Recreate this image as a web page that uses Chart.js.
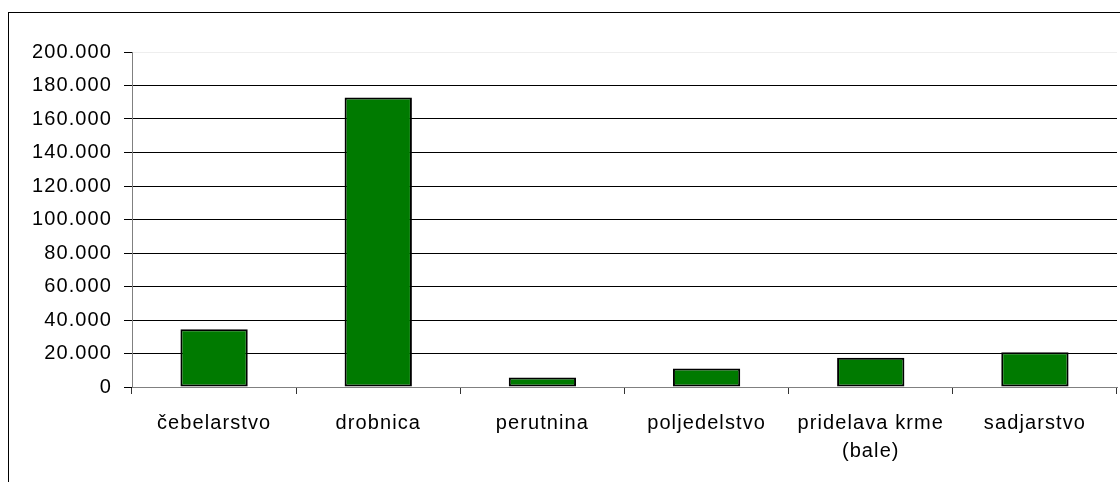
<!DOCTYPE html>
<html>
<head>
<meta charset="utf-8">
<script src="https://cdn.jsdelivr.net/npm/chart.js@4"></script>
<style>
  html, body { margin: 0; padding: 0; background: #fff; overflow: hidden; }
  #wrap { position: relative; width: 1120px; height: 482px; }
  #frame { position: absolute; left: 8px; top: 12px; width: 1200px; height: 600px; border: 1px solid #000; }
  canvas { position: absolute; left: 0; top: 0; }
</style>
</head>
<body>
<div id="wrap">
  <div id="frame"></div>
  <canvas id="myChart" width="1120" height="482"></canvas>
</div>
<script>
const categories = ['čebelarstvo', 'drobnica', 'perutnina', 'poljedelstvo', ['pridelava krme', '(bale)'], 'sadjarstvo']
const values = [34500, 172800, 5600, 11100, 17500, 20800]
const yMax = 200000
const yStep = 20000

const chartCanvas = document.getElementById('myChart')

// the reference text is a bit wider than Arial, so add a little spacing
// (canvas state is reset on resize, so set it before each pass)
const letterSpacingPlugin = {
    id: 'letterSpacing',
    beforeUpdate(chart) { chart.ctx.letterSpacing = '1.1px' },
    beforeLayout(chart) { chart.ctx.letterSpacing = '1.1px' },
    beforeDraw(chart) { chart.ctx.letterSpacing = '1.1px' }
}

function formatTick(value) {
    return value.toLocaleString('de-DE')
}

const barChart = new Chart(chartCanvas, {
    type: 'bar',
    data: {
        labels: categories,
        datasets: [{
            data: values,
            backgroundColor: '#007a00',
            borderColor: '#000000',
            borderWidth: 2,
            borderSkipped: false,
            barPercentage: 0.41,
            categoryPercentage: 1
        }]
    },
    plugins: [letterSpacingPlugin],
    options: {
        responsive: false,
        animation: false,
        events: [],
        layout: {
            padding: { left: 0, top: 52, right: 3, bottom: 0 }
        },
        plugins: {
            legend: { display: false },
            tooltip: { enabled: false }
        },
        scales: {
            x: {
                offset: true,
                grid: {
                    offset: true,
                    drawOnChartArea: false,
                    drawTicks: true,
                    tickLength: 7,
                    tickColor: '#333333'
                },
                border: { color: '#808080', width: 1 },
                ticks: {
                    color: '#000000',
                    padding: 15,
                    maxRotation: 0,
                    autoSkip: false,
                    font: { family: '"Liberation Sans", Arial, sans-serif', size: 20, lineHeight: 1.4 }
                },
                afterFit(scale) { scale.height = 95 }
            },
            y: {
                min: 0,
                max: yMax,
                ticks: {
                    stepSize: yStep,
                    color: '#000000',
                    padding: 12,
                    callback: formatTick,
                    font: { family: '"Liberation Sans", Arial, sans-serif', size: 20 }
                },
                grid: {
                    color: ctx => ctx.tick.value === yMax ? '#eeeeee' : (ctx.tick.value === 0 ? '#808080' : '#000000'),
                    tickColor: '#000000',
                    tickLength: 8,
                    lineWidth: 1
                },
                border: { color: '#808080', width: 1 },
                afterFit(scale) { scale.width = 132 }
            }
        }
    }
})
</script>
</body>
</html>
